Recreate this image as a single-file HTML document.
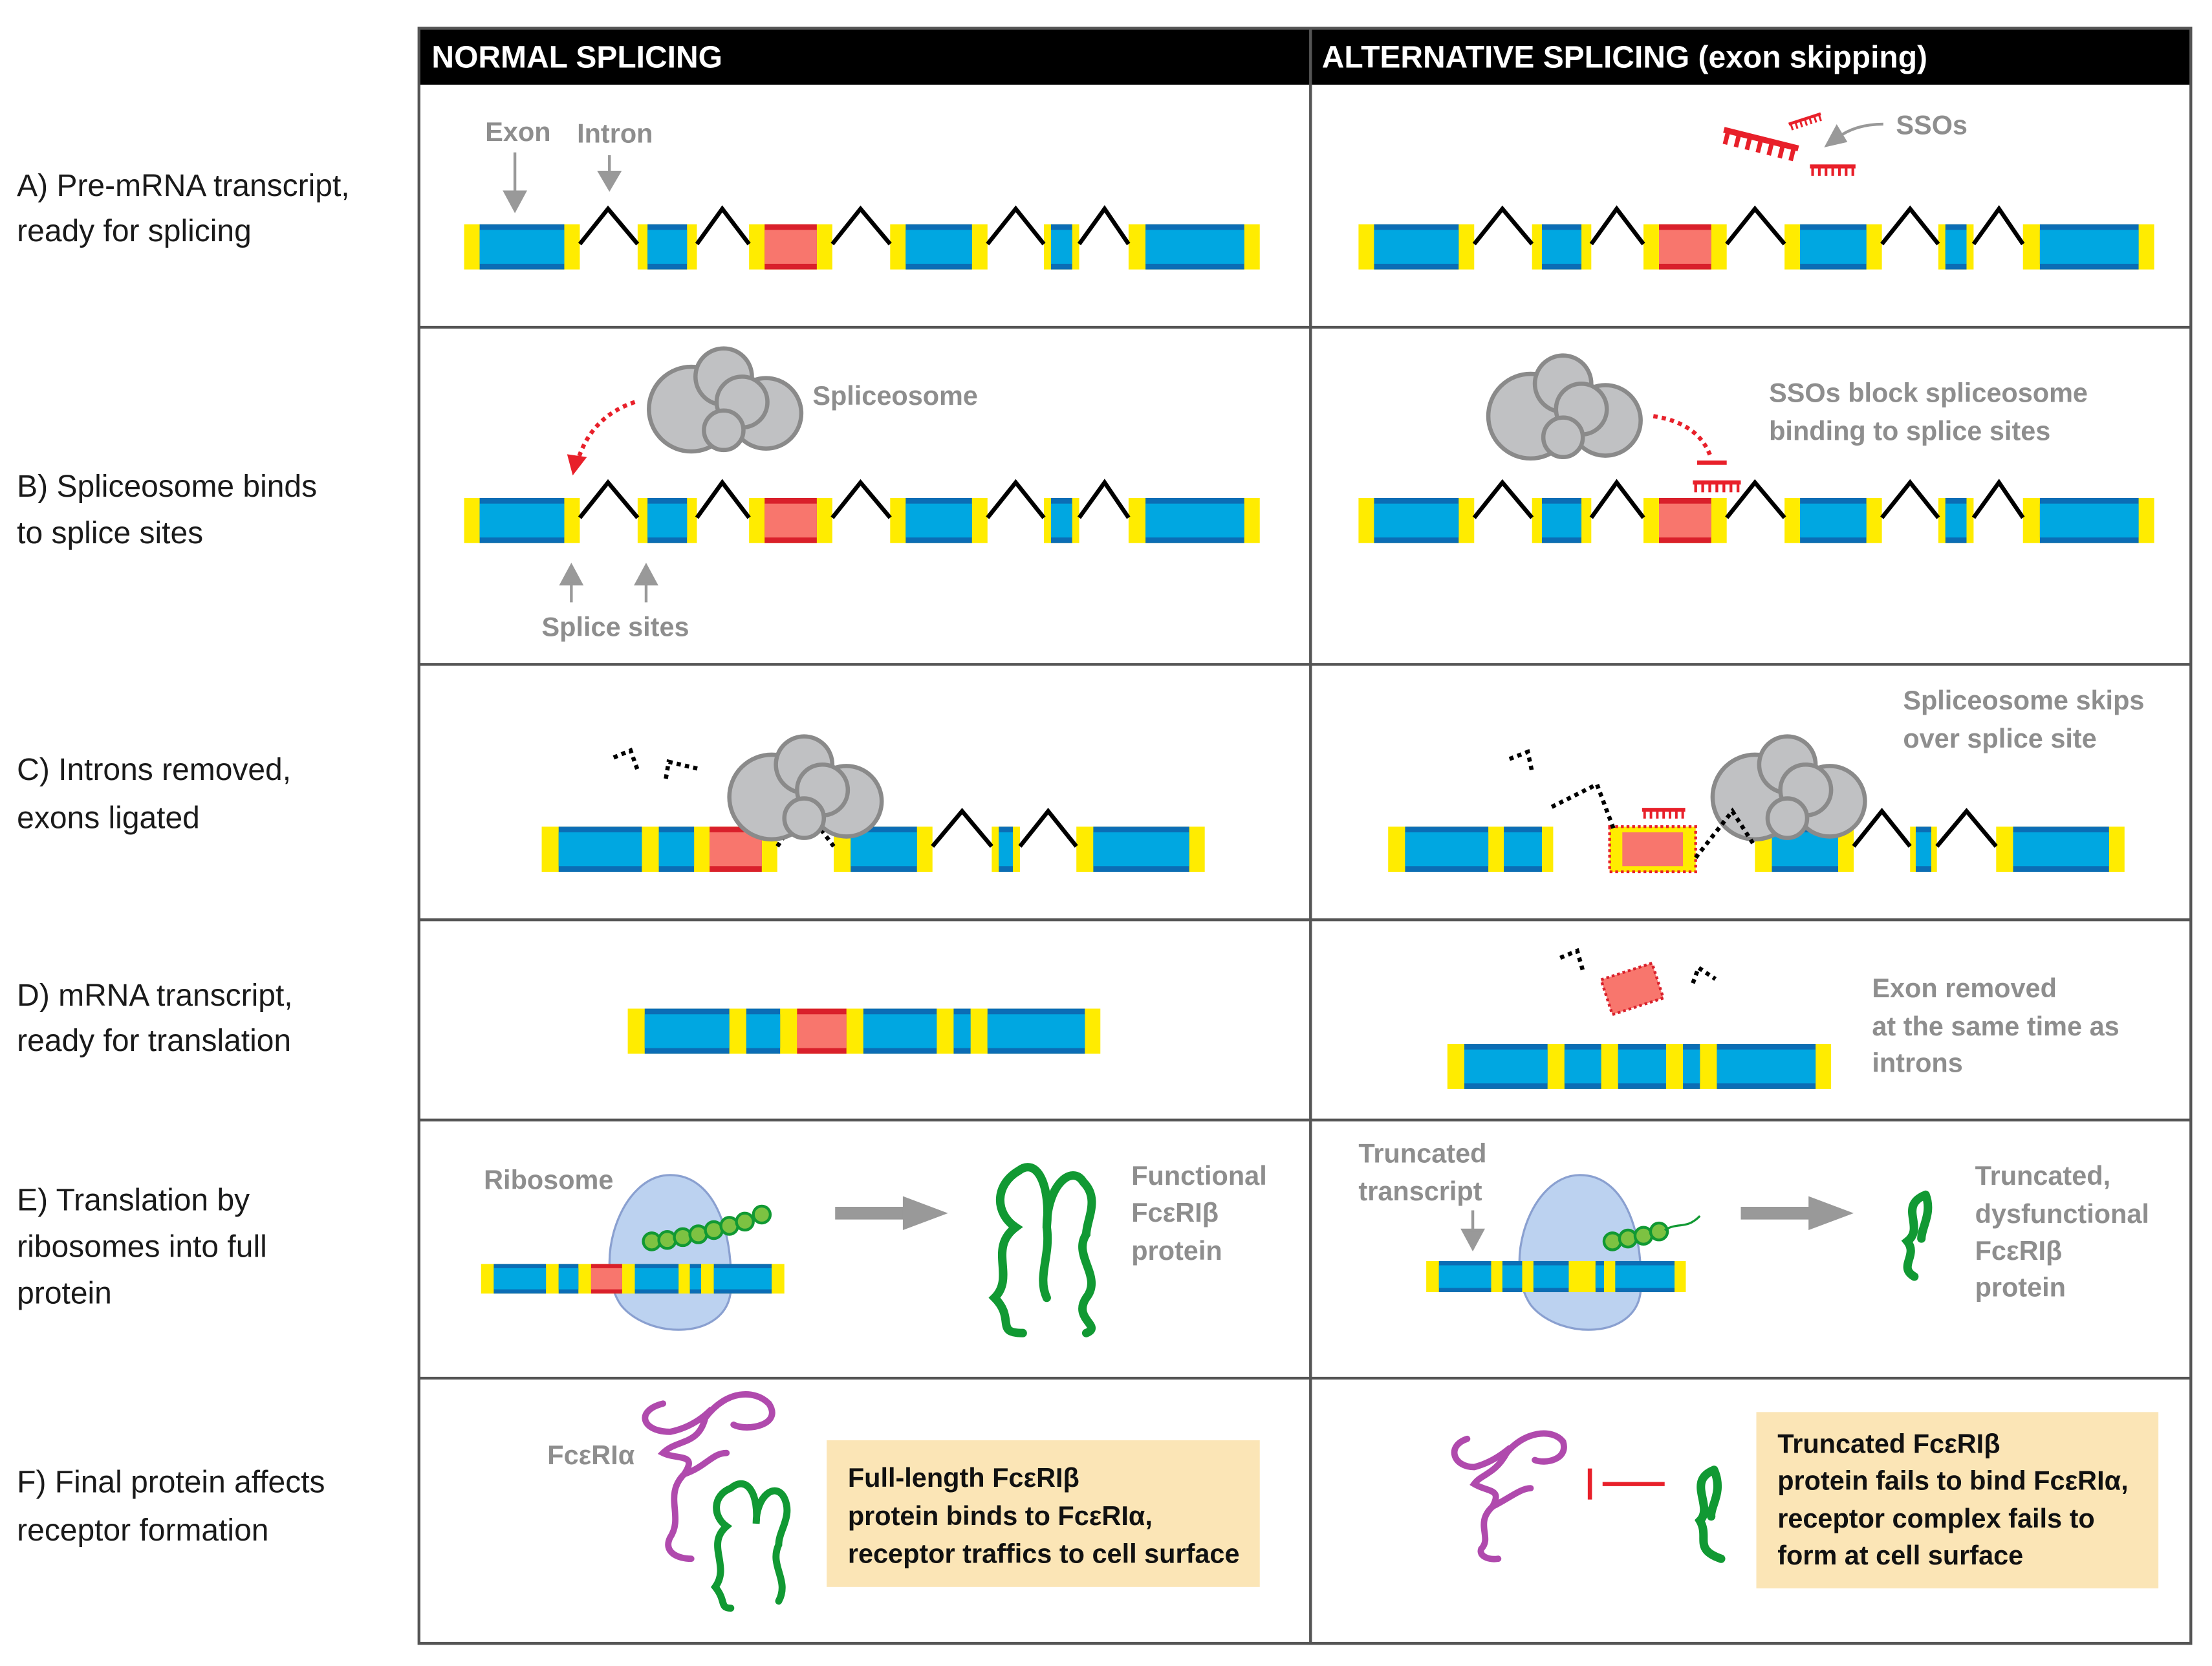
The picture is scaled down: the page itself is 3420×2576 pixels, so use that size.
<!DOCTYPE html>
<html><head><meta charset="utf-8"><style>
html,body{margin:0;padding:0;background:#fff;}
svg{display:block;}
.y{fill:#ffec00}.d{fill:#0b6db5}.l{fill:#00a7e1}.rd{fill:#d9202b}.rl{fill:#f8766d}
.lab{font-family:"Liberation Sans",sans-serif;font-size:22px;fill:#1a1a1a}
.g{font-family:"Liberation Sans",sans-serif;font-size:19px;fill:#8e8e8e;font-weight:bold}
.b{font-family:"Liberation Sans",sans-serif;font-size:19px;fill:#111;font-weight:bold}
.h{font-family:"Liberation Sans",sans-serif;font-size:22px;fill:#fff;font-weight:bold}
.cl circle{fill:#c0c1c3;stroke:#8a8a8a;stroke-width:3}
</style></head><body>
<svg width="3420" height="2576" viewBox="0 0 1568 1181" xmlns="http://www.w3.org/2000/svg">
<defs>
<g id="pre">
<rect class="y" x="329" width="82" height="32"/><rect class="d" x="340" width="60" height="32"/><rect class="l" x="340" y="4" width="60" height="24"/>
<rect class="y" x="452" width="42" height="32"/><rect class="d" x="459" width="28" height="32"/><rect class="l" x="459" y="4" width="28" height="24"/>
<rect class="y" x="531" width="59" height="32"/><rect class="rd" x="542" width="37" height="32"/><rect class="rl" x="542" y="4" width="37" height="24"/>
<rect class="y" x="631" width="69" height="32"/><rect class="d" x="642" width="47" height="32"/><rect class="l" x="642" y="4" width="47" height="24"/>
<rect class="y" x="740" width="25" height="32"/><rect class="d" x="745" width="15" height="32"/><rect class="l" x="745" y="4" width="15" height="24"/>
<rect class="y" x="800" width="93" height="32"/><rect class="d" x="812" width="70" height="32"/><rect class="l" x="812" y="4" width="70" height="24"/>
<g fill="none" stroke="#000" stroke-width="3">
<polyline points="411,14 431,-11 452,14"/><polyline points="494,14 512,-11 531,14"/><polyline points="590,14 610,-11 631,14"/><polyline points="700,14 720,-11 740,14"/><polyline points="765,14 783,-11 800,14"/></g>
</g>
<g id="cloud" class="cl">
<circle cx="-18" cy="5" r="30"/><circle cx="5" cy="-18" r="20"/><circle cx="35" cy="8" r="25"/><circle cx="18" cy="0" r="18"/><circle cx="5" cy="20" r="14"/>
</g>
<g id="sso" stroke="#e8202a" fill="none"><line x1="0" y1="0" x2="34" y2="0" stroke-width="3"/><path d="M2 0v7M7 0v7M12 0v7M17 0v7M22 0v7M27 0v7M32 0v7" stroke-width="2"/></g>
</defs>

<!-- table -->
<rect x="297" y="20" width="1256" height="40" fill="#000"/>
<text class="h" x="306" y="48">NORMAL SPLICING</text>
<text class="h" x="937" y="48">ALTERNATIVE SPLICING (exon skipping)</text>
<g stroke="#555" stroke-width="2" fill="none">
<rect x="297" y="20" width="1256" height="1145"/>
<line x1="929" y1="20" x2="929" y2="1165"/>
<line x1="297" y1="232" x2="1553" y2="232"/><line x1="297" y1="471" x2="1553" y2="471"/>
<line x1="297" y1="652" x2="1553" y2="652"/><line x1="297" y1="794" x2="1553" y2="794"/>
<line x1="297" y1="977" x2="1553" y2="977"/>
</g>

<!-- row labels -->
<text class="lab" x="12" y="139">A) Pre-mRNA transcript,</text><text class="lab" x="12" y="171">ready for splicing</text>
<text class="lab" x="12" y="352">B) Spliceosome binds</text><text class="lab" x="12" y="385">to splice sites</text>
<text class="lab" x="12" y="553">C) Introns removed,</text><text class="lab" x="12" y="587">exons ligated</text>
<text class="lab" x="12" y="713">D) mRNA transcript,</text><text class="lab" x="12" y="745">ready for translation</text>
<text class="lab" x="12" y="858">E) Translation by</text><text class="lab" x="12" y="891">ribosomes into full</text><text class="lab" x="12" y="924">protein</text>
<text class="lab" x="12" y="1058">F) Final protein affects</text><text class="lab" x="12" y="1092">receptor formation</text>

<!-- Row A -->
<use href="#pre" transform="translate(0,159)"/>
<use href="#pre" transform="translate(634,159)"/>
<text class="g" x="344" y="100">Exon</text><text class="g" x="409" y="101">Intron</text>
<g stroke="#999" stroke-width="2" fill="#999">
<line x1="365" y1="108" x2="365" y2="140"/><path d="M358 136h14l-7 13z"/>
<line x1="432" y1="110" x2="432" y2="126"/><path d="M425 122h14l-7 12z"/>
<path d="M1335 88 Q1315 88 1302 98" fill="none"/><path d="M1295 103l7-13 6 10z"/>
</g>
<text class="g" x="1344" y="95">SSOs</text>
<use href="#sso" transform="translate(1222,92) rotate(14) scale(1.6,1.4)"/>
<use href="#sso" transform="translate(1268,88) rotate(-18) scale(0.7)"/>
<use href="#sso" transform="translate(1283,118) scale(0.95)"/>

<!-- Row B -->
<use href="#pre" transform="translate(0,353)"/>
<use href="#pre" transform="translate(634,353)"/>
<use href="#cloud" transform="translate(508,285)"/>
<use href="#cloud" transform="translate(1103,290)"/>
<text class="g" x="576" y="287">Spliceosome</text>
<path d="M450 285 Q420 295 410 325" fill="none" stroke="#e8202a" stroke-width="3" stroke-dasharray="3,3"/>
<path d="M402 322l14 2-10 13z" fill="#e8202a"/>
<g stroke="#999" stroke-width="2" fill="#999">
<line x1="405" y1="410" x2="405" y2="427"/><path d="M398 414h14l-7-13z"/>
<line x1="458" y1="410" x2="458" y2="427"/><path d="M451 414h14l-7-13z"/>
</g>
<text class="g" x="384" y="451">Splice sites</text>
<text class="g" x="1254" y="285">SSOs block spliceosome</text><text class="g" x="1254" y="312">binding to splice sites</text>
<path d="M1172 295 Q1205 300 1213 325" fill="none" stroke="#e8202a" stroke-width="3" stroke-dasharray="3,3"/>
<line x1="1203" y1="328" x2="1224" y2="328" stroke="#e8202a" stroke-width="3"/>
<use href="#sso" transform="translate(1200,342)"/>

<!-- Row C left -->
<g transform="translate(0,586)">
<rect class="y" x="384" width="167" height="32"/>
<rect class="d" x="396" width="59" height="32"/><rect class="l" x="396" y="4" width="59" height="24"/>
<rect class="d" x="467" width="25" height="32"/><rect class="l" x="467" y="4" width="25" height="24"/>
<rect class="rd" x="503" width="37" height="32"/><rect class="rl" x="503" y="4" width="37" height="24"/>
<rect class="y" x="591" width="70" height="32"/><rect class="d" x="603" width="47" height="32"/><rect class="l" x="603" y="4" width="47" height="24"/>
<rect class="y" x="703" width="20" height="32"/><rect class="d" x="708" width="10" height="32"/><rect class="l" x="708" y="4" width="10" height="24"/>
<rect class="y" x="763" width="91" height="32"/><rect class="d" x="775" width="68" height="32"/><rect class="l" x="775" y="4" width="68" height="24"/>
<g fill="none" stroke="#000" stroke-width="3"><polyline points="661,14 682,-11 703,14"/><polyline points="723,14 743,-11 763,14"/></g>
<polyline points="551,14 570,-14 591,14" fill="none" stroke="#000" stroke-width="3" stroke-dasharray="3,3"/>
</g>
<use href="#cloud" transform="translate(565,560)"/>
<g fill="none" stroke="#000" stroke-width="3" stroke-dasharray="3,3">
<polyline points="435,537 447,532 452,546"/><polyline points="472,552 474,540 495,545"/>
</g>
<!-- Row C right -->
<text class="g" x="1349" y="503">Spliceosome skips</text><text class="g" x="1349" y="530">over splice site</text>
<g transform="translate(0,586)">
<rect class="y" x="984" width="117" height="32"/>
<rect class="d" x="996" width="59" height="32"/><rect class="l" x="996" y="4" width="59" height="24"/>
<rect class="d" x="1066" width="27" height="32"/><rect class="l" x="1066" y="4" width="27" height="24"/>
<rect class="y" x="1141" width="61" height="32" stroke="#e8202a" stroke-width="2" stroke-dasharray="2,2"/><rect class="rl" x="1150" y="4" width="43" height="24"/>
<rect class="y" x="1244" width="70" height="32"/><rect class="d" x="1256" width="47" height="32"/><rect class="l" x="1256" y="4" width="47" height="24"/>
<rect class="y" x="1354" width="19" height="32"/><rect class="d" x="1358" width="11" height="32"/><rect class="l" x="1358" y="4" width="11" height="24"/>
<rect class="y" x="1415" width="91" height="32"/><rect class="d" x="1427" width="68" height="32"/><rect class="l" x="1427" y="4" width="68" height="24"/>
<g fill="none" stroke="#000" stroke-width="3"><polyline points="1314,14 1334,-11 1354,14"/><polyline points="1373,14 1394,-11 1415,14"/></g>
</g>
<use href="#cloud" transform="translate(1262,560)"/>
<g fill="none" stroke="#000" stroke-width="3" stroke-dasharray="3,3">
<polyline points="1100,572 1132,556 1144,588"/><polyline points="1202,608 1228,575 1244,600"/><polyline points="1070,538 1083,533 1086,547"/>
</g>
<use href="#sso" transform="translate(1164,574) scale(0.9)"/>

<!-- Row D -->
<g transform="translate(0,715)">
<rect class="y" x="445" width="335" height="32"/>
<rect class="d" x="457" width="60" height="32"/><rect class="l" x="457" y="4" width="60" height="24"/>
<rect class="d" x="529" width="24" height="32"/><rect class="l" x="529" y="4" width="24" height="24"/>
<rect class="rd" x="565" width="35" height="32"/><rect class="rl" x="565" y="4" width="35" height="24"/>
<rect class="d" x="612" width="52" height="32"/><rect class="l" x="612" y="4" width="52" height="24"/>
<rect class="d" x="676" width="12" height="32"/><rect class="l" x="676" y="4" width="12" height="24"/>
<rect class="d" x="700" width="69" height="32"/><rect class="l" x="700" y="4" width="69" height="24"/>
</g>
<g transform="translate(0,740)">
<rect class="y" x="1026" width="272" height="32"/>
<rect class="d" x="1038" width="59" height="32"/><rect class="l" x="1038" y="4" width="59" height="24"/>
<rect class="d" x="1109" width="26" height="32"/><rect class="l" x="1109" y="4" width="26" height="24"/>
<rect class="d" x="1147" width="34" height="32"/><rect class="l" x="1147" y="4" width="34" height="24"/>
<rect class="d" x="1193" width="12" height="32"/><rect class="l" x="1193" y="4" width="12" height="24"/>
<rect class="d" x="1217" width="70" height="32"/><rect class="l" x="1217" y="4" width="70" height="24"/>
</g>
<rect x="1138" y="688" width="38" height="26" class="rl" stroke="#d9202b" stroke-width="2" stroke-dasharray="2,2" transform="rotate(-18 1157 701)"/>
<g fill="none" stroke="#000" stroke-width="3" stroke-dasharray="3,3">
<polyline points="1106,679 1118,674 1122,688"/><polyline points="1200,697 1204,686 1216,694"/>
</g>
<text class="g" x="1327" y="707">Exon removed</text><text class="g" x="1327" y="734">at the same time as</text><text class="g" x="1327" y="760">introns</text>

<!-- Row E left -->
<path d="M475 833 C505 833 520 870 518 915 C515 950 460 950 440 925 C420 895 440 833 475 833Z" fill="#bcd2f0" stroke="#8aa0d0" stroke-width="1.5"/>
<g transform="translate(0,896)">
<rect class="y" x="341" width="215" height="21"/>
<rect class="d" x="350" width="37" height="21"/><rect class="l" x="350" y="3" width="37" height="15"/>
<rect class="d" x="396" width="14" height="21"/><rect class="l" x="396" y="3" width="14" height="15"/>
<rect class="rd" x="419" width="22" height="21"/><rect class="rl" x="419" y="3" width="22" height="15"/>
<rect class="d" x="450" width="31" height="21"/><rect class="l" x="450" y="3" width="31" height="15"/>
<rect class="d" x="489" width="8" height="21"/><rect class="l" x="489" y="3" width="8" height="15"/>
<rect class="d" x="506" width="41" height="21"/><rect class="l" x="506" y="3" width="41" height="15"/>
</g>
<g fill="#7dc242" stroke="#119933" stroke-width="2">
<circle cx="462" cy="880" r="6"/><circle cx="473" cy="879" r="6"/><circle cx="484" cy="877" r="6"/><circle cx="495" cy="875" r="6"/><circle cx="506" cy="872" r="6"/><circle cx="517" cy="869" r="6"/><circle cx="528" cy="866" r="6"/><circle cx="540" cy="861" r="6"/>
</g>
<text class="g" x="343" y="843">Ribosome</text>
<path d="M592 860h50" stroke="#999" stroke-width="9"/><path d="M640 848l32 12-32 12z" fill="#999"/>
<g fill="none" stroke="#119933" stroke-width="6" stroke-linecap="round">
<path d="M722 830 C705 840 705 860 720 870 C700 885 720 905 705 920 C720 935 705 945 725 945"/>
<path d="M722 830 C735 820 745 840 742 870 C742 840 760 825 768 838 C780 850 770 865 770 875 C760 890 782 905 770 920 C760 935 782 940 770 945"/>
<path d="M742 870 C745 890 735 905 742 920"/>
</g>
<text class="g" x="802" y="840">Functional</text><text class="g" x="802" y="866">FcεRIβ</text><text class="g" x="802" y="893">protein</text>

<!-- Row E right -->
<text class="g" x="963" y="824">Truncated</text><text class="g" x="963" y="851">transcript</text>
<g stroke="#999" stroke-width="2" fill="#999"><line x1="1044" y1="858" x2="1044" y2="875"/><path d="M1037 872h14l-7 13z"/></g>
<path d="M1120 833 C1150 833 1165 870 1163 915 C1160 950 1105 950 1085 925 C1065 895 1085 833 1120 833Z" fill="#bcd2f0" stroke="#8aa0d0" stroke-width="1.5"/>
<g transform="translate(0,894)">
<rect class="y" x="1011" width="184" height="22"/>
<rect class="d" x="1020" width="37" height="22"/><rect class="l" x="1020" y="3" width="37" height="16"/>
<rect class="d" x="1065" width="14" height="22"/><rect class="l" x="1065" y="3" width="14" height="16"/>
<rect class="d" x="1087" width="25" height="22"/><rect class="l" x="1087" y="3" width="25" height="16"/>
<rect class="d" x="1131" width="6" height="22"/><rect class="l" x="1131" y="3" width="6" height="16"/>
<rect class="d" x="1145" width="42" height="22"/><rect class="l" x="1145" y="3" width="42" height="16"/>
</g>
<g fill="#7dc242" stroke="#119933" stroke-width="2"><circle cx="1143" cy="880" r="6"/><circle cx="1154" cy="878" r="6"/><circle cx="1165" cy="876" r="6"/><circle cx="1176" cy="873" r="6"/></g>
<path d="M1180 872 C1190 866 1195 872 1205 862" fill="none" stroke="#119933" stroke-width="1.5"/>
<path d="M1234 860h50" stroke="#999" stroke-width="9"/><path d="M1282 848l32 12-32 12z" fill="#999"/>
<path d="M1365 847 C1345 855 1365 870 1352 880 C1360 890 1345 898 1357 905 M1365 847 C1370 860 1362 870 1362 878" fill="none" stroke="#119933" stroke-width="6" stroke-linecap="round"/>
<text class="g" x="1400" y="840">Truncated,</text><text class="g" x="1400" y="867">dysfunctional</text><text class="g" x="1400" y="893">FcεRIβ</text><text class="g" x="1400" y="919">protein</text>

<!-- Row F left -->
<text class="g" x="388" y="1038">FcεRIα</text>
<g fill="none" stroke="#b04aad" stroke-width="4.5" stroke-linecap="round">
<path d="M470 995 C450 1000 455 1015 475 1015 C500 1010 510 990 500 1005 C495 1025 480 1020 470 1030 C480 1035 495 1030 485 1045 C470 1060 485 1075 475 1090 C470 1100 480 1105 490 1105"/>
<path d="M500 1005 C515 985 535 985 545 995 C555 1010 530 1015 520 1010"/>
<path d="M485 1045 C500 1040 505 1030 515 1030"/>
</g>
<g fill="none" stroke="#119933" stroke-width="5" stroke-linecap="round">
<path d="M518 1055 C505 1060 505 1075 515 1082 C500 1095 518 1110 507 1125 C515 1135 510 1140 518 1140"/>
<path d="M518 1055 C530 1045 538 1060 536 1080 C536 1060 550 1050 556 1062 C562 1075 552 1085 552 1095 C545 1110 560 1120 552 1135"/>
</g>
<rect x="586" y="1021" width="307" height="104" fill="#fbe5b6"/>
<text class="b" x="601" y="1054">Full-length FcεRIβ</text><text class="b" x="601" y="1081">protein binds to FcεRIα,</text><text class="b" x="601" y="1108">receptor traffics to cell surface</text>

<!-- Row F right -->
<g fill="none" stroke="#b04aad" stroke-width="4.5" stroke-linecap="round">
<path d="M1040 1020 C1025 1025 1030 1040 1045 1040 C1065 1035 1075 1020 1068 1030 C1060 1045 1050 1045 1045 1052 C1055 1058 1065 1055 1058 1068 C1045 1080 1058 1090 1050 1098 C1048 1103 1055 1106 1062 1105"/>
<path d="M1068 1030 C1080 1015 1100 1012 1108 1022 C1112 1035 1095 1038 1088 1035"/>
<path d="M1058 1068 C1070 1062 1078 1055 1085 1055"/>
</g>
<path d="M1136 1052h44 M1127 1041v22" stroke="#e8202a" stroke-width="3" fill="none"/>
<path d="M1215 1042 C1195 1050 1215 1068 1205 1078 C1212 1090 1200 1098 1220 1105 M1215 1042 C1222 1058 1212 1068 1213 1075" fill="none" stroke="#119933" stroke-width="6" stroke-linecap="round"/>
<rect x="1245" y="1001" width="285" height="125" fill="#fbe5b6"/>
<text class="b" x="1260" y="1030">Truncated FcεRIβ</text><text class="b" x="1260" y="1056">protein fails to bind FcεRIα,</text><text class="b" x="1260" y="1083">receptor complex fails to</text><text class="b" x="1260" y="1109">form at cell surface</text>
</svg>
</body></html>
